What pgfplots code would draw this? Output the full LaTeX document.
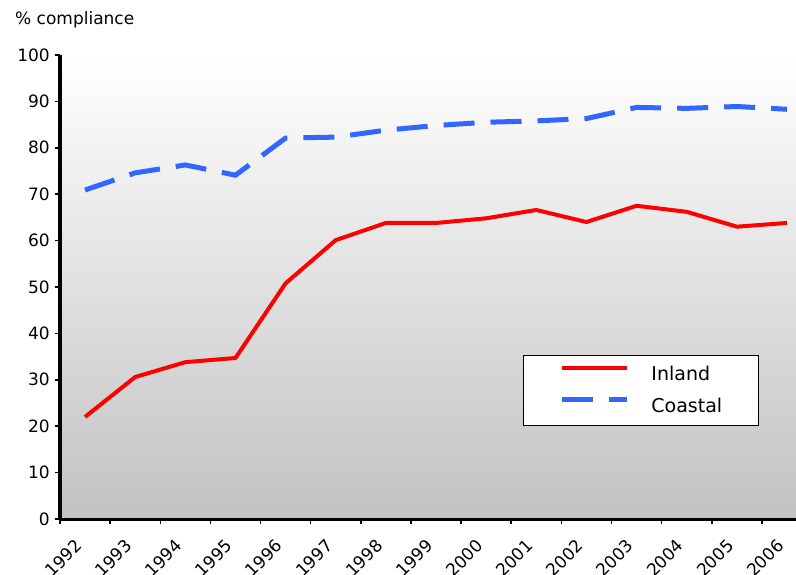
\documentclass[border=0pt]{standalone}
\usepackage{fontspec}
\setmainfont{DejaVu Sans}
\usepackage{pgfplots}
\pgfplotsset{compat=1.18}

\definecolor{inland}{RGB}{255,0,0}
\definecolor{coastal}{RGB}{51,102,255}

\begin{document}
\fontsize{17bp}{20bp}\selectfont
\begin{tikzpicture}
\useasboundingbox (-60bp,-56bp) rectangle (736bp,519bp);
\begin{axis}[
    at={(0,0)}, anchor=south west,
    scale only axis,
    width=736bp, height=464bp,
    xmin=-0.5, xmax=14.18,
    ymin=0, ymax=100,
    axis x line*=bottom,
    axis y line*=left,
    axis line style={line width=3bp, black},
    xtick={0,...,14},
    xticklabels={1992,1993,1994,1995,1996,1997,1998,1999,2000,2001,2002,2003,2004,2005,2006},
    minor xtick={-0.5,0.5,...,13.5},
    ytick={0,10,...,100},
    tick align=outside,
    major tick length=5bp,
    minor tick length=5bp,
    every major x tick/.append style={draw=none},
    tick style={line width=1.5bp, black},
    /pgf/number format/assume math mode=true,
    xticklabel style={xshift=-11bp, yshift=-14bp, rotate=45, anchor=north east, inner sep=0pt},
    yticklabel style={inner sep=0pt, xshift=-5bp},
    axis background/.style={top color=white, bottom color=black!24},
    legend image code/.code={\draw[#1] (0bp,7bp) -- (65bp,7bp);},
    legend cell align=left,
    legend style={
        at={(0.629,0.353)}, anchor=north west,
        draw=black, line width=1bp, fill=white,
        font=\fontsize{19bp}{22bp}\selectfont,
        inner xsep=36bp, inner ysep=10bp,
        row sep=14bp,
        nodes={inner sep=0pt, text height=14bp, text depth=3bp},
        /tikz/every odd column/.append style={column sep=22bp},
    },
]
\addplot[inland, line width=4bp, line join=round] coordinates {
    (0,22.0) (1,30.6) (2,33.8) (3,34.7) (4,50.8) (5,60.1) (6,63.8) (7,63.8)
    (8,64.8) (9,66.6) (10,64.0) (11,67.5) (12,66.2) (13,63.0) (14,63.8)
};
\addlegendentry{Inland}
\addplot[coastal, line width=5bp, dash pattern=on 31bp off 16bp] coordinates {
    (0,70.9) (1,74.6) (2,76.3) (3,74.1) (4,82.1) (5,82.3) (6,83.8) (7,84.8)
    (8,85.5) (9,85.8) (10,86.3) (11,88.7) (12,88.5) (13,88.9) (14,88.3)
};
\addlegendentry{Coastal}
\end{axis}
\node[anchor=base west, inner sep=0pt] at (-45bp,494bp) {\% compliance};
\end{tikzpicture}
\end{document}
